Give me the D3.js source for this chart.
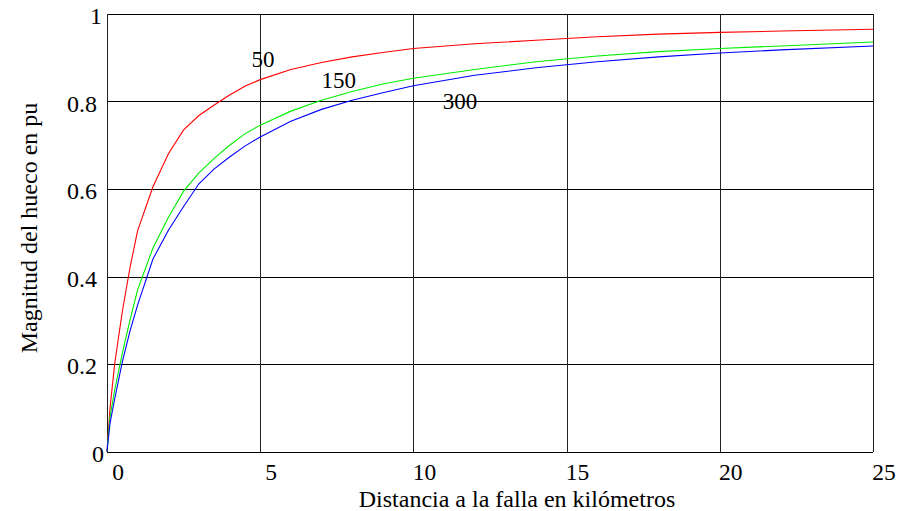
<!DOCTYPE html>
<html>
<head>
<meta charset="utf-8">
<script src="https://cdn.jsdelivr.net/npm/d3@7"></script>
<style>
  body { margin: 0; background: #fff; }
  svg { display: block; }
  text { font-family: "Liberation Serif", "Times New Roman", serif; fill: #000; }
  .grid line { shape-rendering: crispEdges; }
  .curve { fill: none; stroke-width: 1.1; }
</style>
</head>
<body>
<svg width="899" height="511"></svg>
<script>
// distance to fault, km
const distances = [0, 0.1, 0.25, 0.5, 0.75, 1, 1.5, 2, 2.5, 3, 3.5, 4, 4.5, 5, 6, 7, 8, 9, 10, 12, 14, 16, 18, 20, 22, 25];

// sag magnitude in pu for each curve
const sag50  = [0, 0.10, 0.20, 0.32, 0.42, 0.505, 0.605, 0.68, 0.735, 0.768, 0.792, 0.815, 0.835, 0.850, 0.873, 0.889, 0.902, 0.912, 0.921, 0.932, 0.940, 0.948, 0.954, 0.958, 0.961, 0.965];
const sag150 = [0, 0.08, 0.14, 0.225, 0.30, 0.37, 0.465, 0.535, 0.595, 0.637, 0.67, 0.70, 0.726, 0.746, 0.778, 0.803, 0.823, 0.84, 0.853, 0.873, 0.891, 0.904, 0.914, 0.921, 0.927, 0.936];
const sag300 = [0, 0.065, 0.12, 0.205, 0.275, 0.335, 0.44, 0.505, 0.56, 0.612, 0.646, 0.673, 0.698, 0.719, 0.755, 0.782, 0.803, 0.82, 0.836, 0.86, 0.877, 0.891, 0.902, 0.911, 0.918, 0.927];

const seriesNames = ["50", "150", "300"];
const seriesColours = ["#ff0000", "#00ee00", "#0000ff"];
// where each curve label sits (km, pu)
const labelPos = [[4.72, 0.878], [7.0, 0.830], [10.96, 0.782]];

const xTicks = [0, 5, 10, 15, 20, 25];
const yTicks = [0, 0.2, 0.4, 0.6, 0.8, 1];

const svg = d3.select("svg"),
    margin = {top: 14, right: 26, bottom: 60, left: 107},
    width = 873 - margin.left,
    height = 451.5 - margin.top,
    g = svg.append("g").attr("transform", "translate(" + margin.left + "," + margin.top + ")");

const xScale = d3.scaleLinear().domain([0, 25]).range([0, width]),
    yScale = d3.scaleLinear().domain([0, 1]).range([height, 0]);

const series = [sag50, sag150, sag300].map(function(vals, i) {
  return {
    id: seriesNames[i],
    colour: seriesColours[i],
    label: labelPos[i],
    values: distances.map(function(d, j) { return {x: d, y: vals[j]}; })
  };
});

// Grid: horizontal lines
g.append("g")
    .attr("class", "grid")
  .selectAll("line")
  .data(yTicks)
  .enter().append("line")
    .attr("x1", 0)
    .attr("x2", width)
    .attr("y1", function(d) { return Math.round(yScale(d)) + 0.5; })
    .attr("y2", function(d) { return Math.round(yScale(d)) + 0.5; })
    .style("stroke", "#000")
    .style("stroke-width", 1.3);

// Grid: vertical lines
g.append("g")
    .attr("class", "grid")
  .selectAll("line")
  .data(xTicks)
  .enter().append("line")
    .attr("x1", function(d) { return Math.round(xScale(d)) + 0.5; })
    .attr("x2", function(d) { return Math.round(xScale(d)) + 0.5; })
    .attr("y1", 0)
    .attr("y2", height)
    .style("stroke", "#222")
    .style("stroke-width", 1.6);

// Tick labels
g.append("g")
  .selectAll("text")
  .data(xTicks)
  .enter().append("text")
    .attr("x", function(d) { return xScale(d) + 11; })
    .attr("y", height + 28)
    .style("text-anchor", "middle")
    .style("font-size", "23.5px")
    .text(function(d) { return d; });

g.append("g")
  .selectAll("text")
  .data(yTicks)
  .enter().append("text")
    .attr("x", function(d) { return d === 0 ? -3 : (d === 1 ? -5 : -10); })
    .attr("y", function(d) { return yScale(d) + 2; })
    .attr("dy", "0.35em")
    .style("text-anchor", "end")
    .style("font-size", "24px")
    .text(function(d) { return d; });

// Axis titles
svg.append("text")
    .attr("x", 517)
    .attr("y", 507)
    .style("text-anchor", "middle")
    .style("font-size", "24px")
    .text("Distancia a la falla en kilómetros");

svg.append("text")
    .attr("transform", "translate(37,228) rotate(-90)")
    .style("text-anchor", "middle")
    .style("font-size", "24px")
    .text("Magnitud del hueco en pu");

// Curves
const line = d3.line()
    .x(function(d) { return xScale(d.x); })
    .y(function(d) { return yScale(d.y); });

const curve = g.selectAll(".sag")
  .data(series)
  .enter().append("g")
    .attr("class", "sag");

curve.append("path")
    .attr("class", "curve")
    .attr("d", function(d) { return line(d.values); })
    .style("stroke", function(d) { return d.colour; });

curve.append("text")
    .attr("x", function(d) { return xScale(d.label[0]); })
    .attr("y", function(d) { return yScale(d.label[1]); })
    .style("font-size", "23px")
    .text(function(d) { return d.id; });
</script>
</body>
</html>
